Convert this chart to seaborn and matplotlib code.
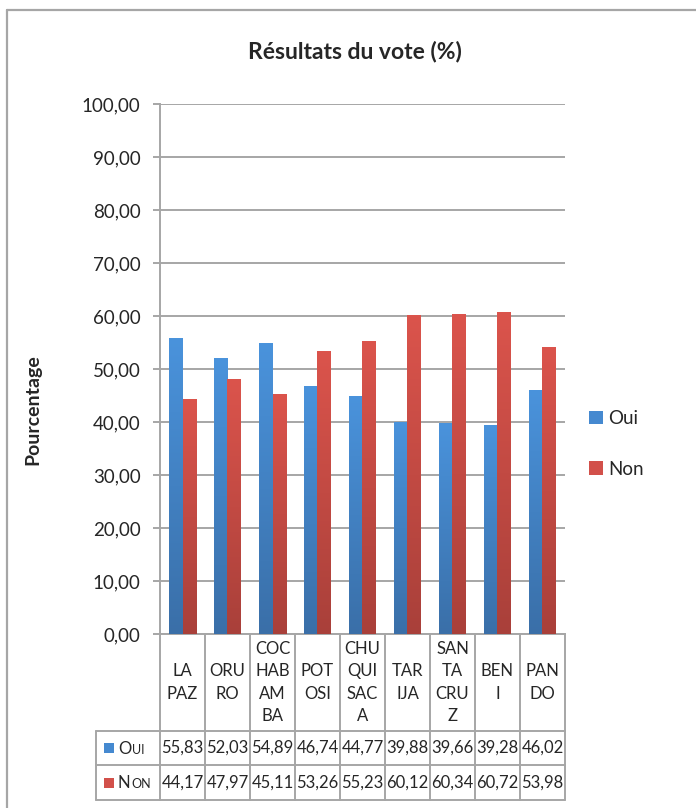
import numpy as np
import pandas as pd
import seaborn as sns
import matplotlib.pyplot as plt
from matplotlib.colors import LinearSegmentedColormap
from matplotlib.lines import Line2D
from matplotlib.patches import Patch, Rectangle
from matplotlib.transforms import blended_transform_factory

# donnees du graphique
departements = ['LA PAZ', 'ORURO', 'COCHABAMBA', 'POTOSI', 'CHUQUISACA',
                'TARIJA', 'SANTA CRUZ', 'BENI', 'PANDO']
etiquettes = ['LA\nPAZ', 'ORU\nRO', 'COC\nHAB\nAM\nBA', 'POT\nOSI', 'CHU\nQUI\nSAC\nA',
              'TAR\nIJA', 'SAN\nTA\nCRU\nZ', 'BEN\nI', 'PAN\nDO']
oui = [55.83, 52.03, 54.89, 46.74, 44.77, 39.88, 39.66, 39.28, 46.02]
non = [44.17, 47.97, 45.11, 53.26, 55.23, 60.12, 60.34, 60.72, 53.98]
series = ['Oui', 'Non']
y_ticks = list(range(0, 101, 10))

sns.set_style('white')
plt.rcParams['font.family'] = ['Lato', 'DejaVu Sans']

df = pd.DataFrame({'dep': departements * 2,
                   'serie': ['Oui'] * len(oui) + ['Non'] * len(non),
                   'val': oui + non})

W, H = 696, 808
fig = plt.figure(figsize=(W / 100, H / 100), dpi=100)
ax = fig.add_axes([160 / W, 1 - 634 / H, 405 / W, 530 / H])

palette = {'Oui': '#4589d0', 'Non': '#d2504a'}
grads = {'Oui': ('#3a6fa8', '#4a93dc'), 'Non': ('#a9403a', '#db544c')}
sns.barplot(data=df, x='dep', y='val', hue='serie', palette=palette, width=0.6,
            saturation=1, legend=False, ax=ax, zorder=3)

# degradé vertical dans les barres
grad = np.linspace(0, 1, 256).reshape(-1, 1)
for cont, s in zip(ax.containers, series):
    cmap = LinearSegmentedColormap.from_list(s, grads[s])
    for bar in cont:
        x0, w, h = bar.get_x(), bar.get_width(), bar.get_height()
        ax.imshow(grad, extent=[x0, x0 + w, 0, h], origin='lower', cmap=cmap,
                  aspect='auto', zorder=3)
        bar.set_visible(False)

gris = '#a6a6a6'
ax.set_xlim(-0.5, len(departements) - 0.5)
ax.set_ylim(0, 100)
ax.set_yticks(y_ticks)
ax.set_yticklabels([f'{v:.2f}'.replace('.', ',') for v in y_ticks], fontsize=13.5)
ax.set_xticks([])
ax.set_xlabel('')
ax.set_ylabel('')
ax.grid(axis='y', color=gris, lw=1.4, zorder=0)
ax.tick_params(axis='y', direction='out', length=5, width=1.4, color=gris, pad=9, left=True)
for sp in ['top', 'right']:
    ax.spines[sp].set_visible(False)
for sp in ['left', 'bottom']:
    ax.spines[sp].set_color(gris)
    ax.spines[sp].set_linewidth(1.4)

fig.text(355 / W, 1 - 52 / H, 'Résultats du vote (%)', ha='center', va='center',
         fontsize=16.5, fontweight='bold')
fig.text(33 / W, 1 - 410 / H, 'Pourcentage', rotation=90, ha='center', va='center',
         fontsize=14, fontweight='bold')

# legende a droite
handles = [Patch(facecolor=palette[s], edgecolor='none') for s in series]
ax.legend(handles, series, loc='center left', bbox_to_anchor=(580 / W, 1 - 444 / H),
          bbox_transform=fig.transFigure, frameon=False, fontsize=13.5, borderpad=0,
          handlelength=0.75, handleheight=0.75, handletextpad=0.25, labelspacing=1.8)

# cadre du graphique
fig.add_artist(Line2D([7 / W, 1], [1 - 10 / H] * 2, color=gris, lw=1.6, transform=fig.transFigure))
fig.add_artist(Line2D([7 / W] * 2, [0, 1 - 10 / H], color=gris, lw=1.6, transform=fig.transFigure))

# tableau de donnees
tr = blended_transform_factory(ax.transData, fig.transFigure)
fy = lambda py: 1 - py / H
y_head, y_r1, y_r2, y_r3 = 634, 731, 765, 800
n = len(departements)
for i in range(n + 1):
    fig.add_artist(Line2D([i - 0.5] * 2, [fy(y_head), fy(y_r3)], color=gris, lw=1.4,
                          transform=tr, clip_on=False))
for yy in [y_r1, y_r2, y_r3]:
    fig.add_artist(Line2D([96 / W, 565 / W], [fy(yy)] * 2, color=gris, lw=1.4,
                          transform=fig.transFigure))
fig.add_artist(Line2D([96 / W] * 2, [fy(y_r1), fy(y_r3)], color=gris, lw=1.4,
                      transform=fig.transFigure))

for i, lab in enumerate(etiquettes):
    fig.text(i, fy((y_head + y_r1) / 2), lab, transform=tr, ha='center', va='center',
             fontsize=12, linespacing=1.5)
for vals, (ya, yb) in zip([oui, non], [(y_r1, y_r2), (y_r2, y_r3)]):
    for i, v in enumerate(vals):
        fig.text(i, fy((ya + yb) / 2), f'{v:.2f}'.replace('.', ','), transform=tr,
                 ha='center', va='center', fontsize=12)

# petites capitales dans la colonne de legende du tableau
renderer = fig.canvas.get_renderer()
for s, (ya, yb) in zip(series, [(y_r1, y_r2), (y_r2, y_r3)]):
    yc = (ya + yb) / 2
    fig.add_artist(Rectangle((104 / W, fy(yc + 5)), 10 / W, 10 / H, facecolor=palette[s],
                             edgecolor='none', transform=fig.transFigure))
    t = fig.text(118 / W, fy(yc + 6), s[0], ha='left', va='baseline', fontsize=12)
    x1 = t.get_window_extent(renderer).x1
    fig.text((x1 + 0.5) / W, fy(yc + 6), s[1:].upper(), ha='left', va='baseline', fontsize=9)

fig.savefig('out.png', dpi=100, facecolor='white')
